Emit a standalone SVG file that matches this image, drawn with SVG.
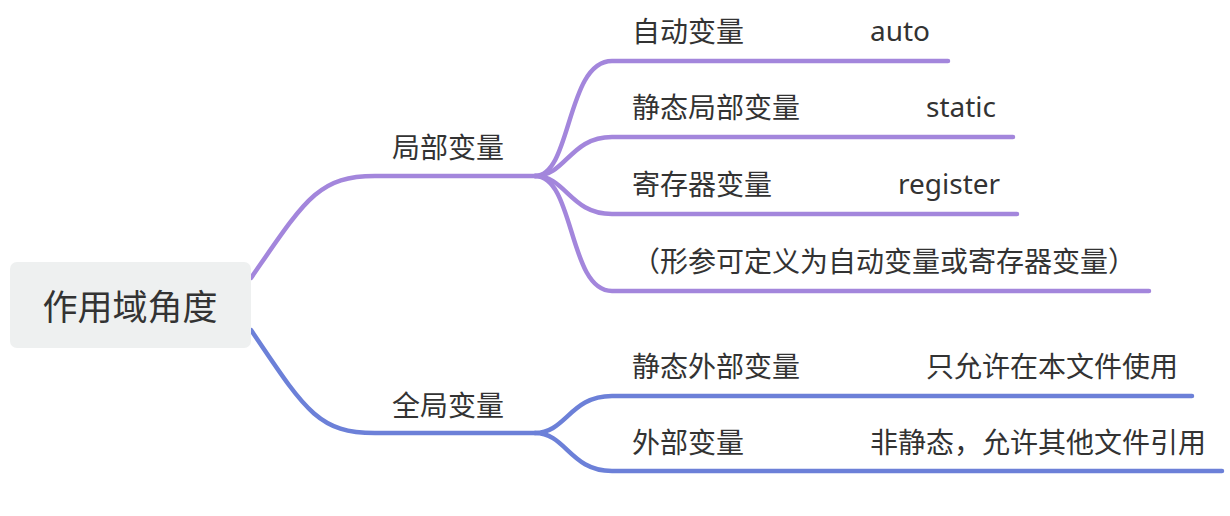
<svg xmlns="http://www.w3.org/2000/svg" width="1230" height="516" viewBox="0 0 1230 516">
<style>
.t{font-family:"Noto Sans","Noto Sans CJK SC",sans-serif;font-size:28px;fill:#333333}
.root{font-family:"Noto Sans CJK SC","Noto Sans",sans-serif;font-size:35px;fill:#333333}
.p{fill:none;stroke:#a386dc;stroke-width:4.5;stroke-linecap:round}
.b{fill:none;stroke:#6c80d8;stroke-width:4.5;stroke-linecap:round}
</style>
<rect width="1230" height="516" fill="#ffffff"/>
<g id="connectors">
<path class="p" d="M251,278 C305,200 318,176 375,176 H535"/>
<path class="p" d="M535,176 C572,176 566,61 612,61 H948"/>
<path class="p" d="M535,176 C566,176 570,137 612,137 H1013"/>
<path class="p" d="M535,176 C566,176 570,214 612,214 H1017"/>
<path class="p" d="M535,176 C575,176 568,291 612,291 H1149"/>
<path class="b" d="M251,330 C305,410 318,433 375,433 H535"/>
<path class="b" d="M535,433 C566,433 570,396 612,396 H1192"/>
<path class="b" d="M535,433 C566,433 570,471 612,471 H1222"/>
</g>
<g id="root">
<rect x="10" y="262" width="241" height="86" rx="7" fill="#eef0f0"/>
<text class="root" x="130" y="320" text-anchor="middle">作用域角度</text>
</g>
<g id="local"><text class="t" x="392" y="158">局部变量</text></g>
<g id="auto"><text class="t" x="632" y="42">自动变量</text><text class="t" x="870" y="41">auto</text></g>
<g id="static-local"><text class="t" x="632" y="118">静态局部变量</text><text class="t" x="926" y="117">static</text></g>
<g id="register"><text class="t" x="632" y="195">寄存器变量</text><text class="t" x="898" y="194">register</text></g>
<g id="param"><text class="t" x="632" y="272">（形参可定义为自动变量或寄存器变量）</text></g>
<g id="global"><text class="t" x="392" y="416">全局变量</text></g>
<g id="static-extern"><text class="t" x="632" y="377">静态外部变量</text><text class="t" x="926" y="377">只允许在本文件使用</text></g>
<g id="extern"><text class="t" x="632" y="453">外部变量</text><text class="t" x="870" y="453">非静态，允许其他文件引用</text></g>
</svg>
